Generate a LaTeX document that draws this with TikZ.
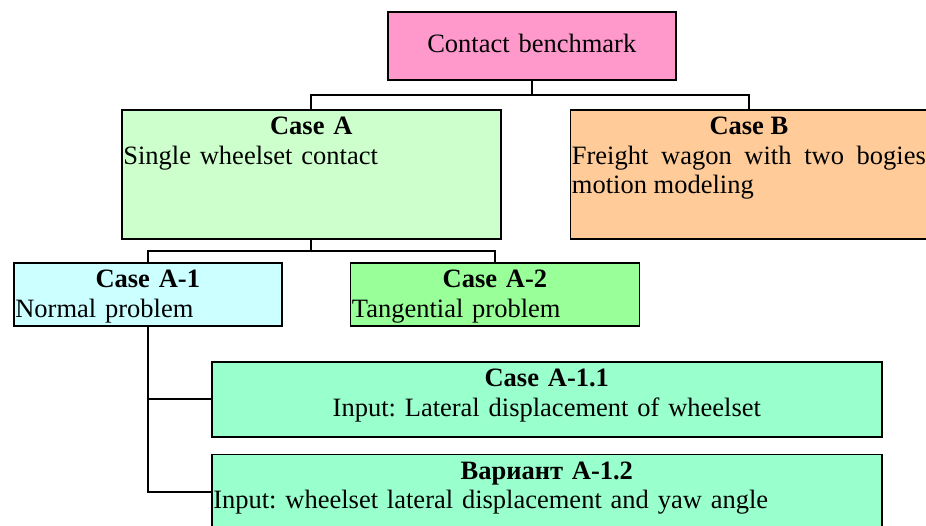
\documentclass[tikz,border=0pt]{standalone}
\usepackage{fontspec}
\setmainfont{Liberation Serif}
\usepackage{tikz}
\usetikzlibrary{positioning,calc}
\frenchspacing
\hyphenpenalty=10000
\exhyphenpenalty=10000
\tolerance=10000
\definecolor{DEFINE_ROOT_COLOR}{HTML}{FF99CC}
\definecolor{DEFINE_CA_COLOR}{HTML}{CCFFCC}
\definecolor{DEFINE_CB_COLOR}{HTML}{FFCC99}
\definecolor{DEFINE_A1_COLOR}{HTML}{CCFFFF}
\definecolor{DEFINE_A2_COLOR}{HTML}{99FF99}
\definecolor{DEFINE_SUB_COLOR}{HTML}{99FFCC}
\tikzstyle{ROOT_COLOR}=[fill=DEFINE_ROOT_COLOR]
\tikzstyle{CA_COLOR}=[fill=DEFINE_CA_COLOR]
\tikzstyle{CB_COLOR}=[fill=DEFINE_CB_COLOR]
\tikzstyle{A1_COLOR}=[fill=DEFINE_A1_COLOR]
\tikzstyle{A2_COLOR}=[fill=DEFINE_A2_COLOR]
\tikzstyle{SUB_COLOR}=[fill=DEFINE_SUB_COLOR]
\newcommand{\cbfont}{\fontsize{26.5}{29.5}\selectfont\frenchspacing}
\newcommand{\cbtitle}[1]{{\centering\bfseries #1\par}}
\tikzstyle{layer} = [rectangle, draw=black, line width=1.6pt, inner xsep=1.5pt, inner ysep=0pt, font=\cbfont, text height=25pt, anchor=north west]
\tikzstyle{top_stack}  = [layer, text width=285pt, align=center, text height=41pt, text depth=27pt]
\tikzstyle{case_stack} = [layer, text depth=104pt]
\tikzstyle{sub_stack}  = [layer, text depth=38pt, align=left]
\tikzstyle{var_stack}  = [layer, text width=667pt, text depth=50pt]
\tikzstyle{ROOT_LAYER} = [top_stack, ROOT_COLOR]
\tikzstyle{CA_LAYER} = [case_stack, CA_COLOR, text width=376pt, align=left]
\tikzstyle{CB_LAYER} = [case_stack, CB_COLOR, text width=354pt, align=justify, right=68pt of CA.north east, anchor=north west]
\tikzstyle{A1_LAYER} = [sub_stack, A1_COLOR, text width=265pt]
\tikzstyle{A2_LAYER} = [sub_stack, A2_COLOR, text width=286pt, right=67pt of A1.north east, anchor=north west]
\tikzstyle{A11_LAYER} = [var_stack, SUB_COLOR, align=center]
\tikzstyle{A12_LAYER} = [var_stack, SUB_COLOR, align=left, below=16pt of A11.south west, anchor=north west]
\tikzstyle{link} = [draw=black, line width=2pt]
\tikzstyle{elbow} = [to path={|- ($(\tikztostart)!.5!(\tikztotarget)$) -| (\tikztotarget)}]

\begin{document}
\begin{tikzpicture}[x=1pt, y=-1pt]
      \useasboundingbox (0,0) rectangle (926,525);

      %%%%%%%%%%%%%%%%%%%%%%%%%%%%%%%%%%%%%%%%%%%%%%%%%
      % BOXES
      %%%%%%%%%%%%%%%%%%%%%%%%%%%%%%%%%%%%%%%%%%%%%%%%%
      \node[ROOT_LAYER] (ROOT) at (387,11) {Contact benchmark};
      \node[CA_LAYER]   (CA)   at (121,109) {\cbtitle{Case A}Single wheelset contact};
      \node[CB_LAYER]   (CB)   {\cbtitle{Case B}Freight wagon with two bogies motion modeling};
      \node[A1_LAYER]   (A1)   at (13,262) {\cbtitle{Case A-1}Normal problem};
      \node[A2_LAYER]   (A2)   {\cbtitle{Case A-2}Tangential problem};
      \node[A11_LAYER]  (A11)  at (211,361) {\textbf{Case A-1.1}\\Input: Lateral displacement of wheelset};
      \node[A12_LAYER]  (A12)  {\cbtitle{Вариант A-1.2}Input: wheelset lateral displacement and yaw angle};

      %%%%%%%%%%%%%%%%%%%%%%%%%%%%%%%%%%%%%%%%%%%%%%%%%
      % CONNECTORS
      %%%%%%%%%%%%%%%%%%%%%%%%%%%%%%%%%%%%%%%%%%%%%%%%%
      \path[every edge/.style={link, elbow}]
      (ROOT.south) edge (CA.north)
      (ROOT.south) edge (CB.north)
      (CA.south) edge (A1.north)
      (CA.south) edge (A2.north);
      \path[every edge/.style={link, to path={|- (\tikztotarget)}}]
      (A1.south) edge (A11.west)
      (A1.south) edge (A12.west);

\end{tikzpicture}
\end{document}
